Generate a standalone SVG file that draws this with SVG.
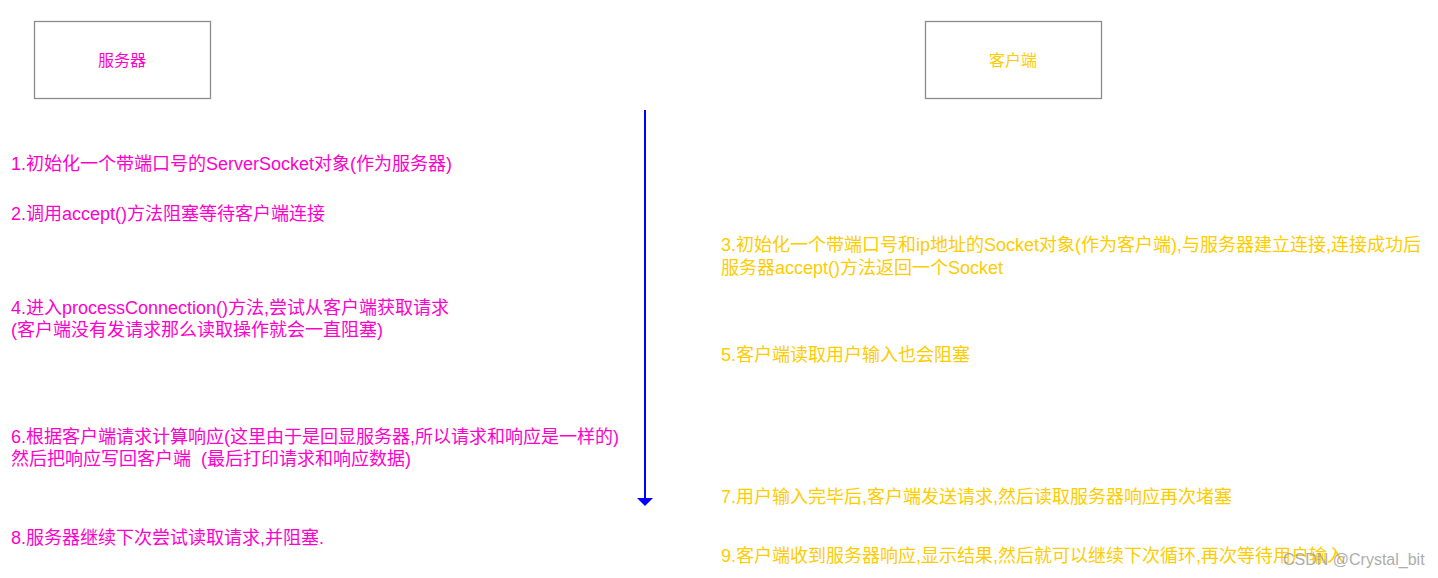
<svg xmlns="http://www.w3.org/2000/svg" width="1438" height="578" viewBox="0 0 1438 578">
<style>
text{font-family:"Liberation Sans","Noto Sans CJK SC",sans-serif}
.box{fill:#fff;stroke:#8c8c8c;stroke-width:1.3}
.t{font-size:18px}
.s{fill:#ff00cc}
.c{fill:#ffcc00}
.h{font-size:16px;text-anchor:middle;dominant-baseline:central}
.wm{font-size:16px;fill:#999;opacity:0.8}
</style>
<rect width="1438" height="578" fill="#fff"/>
<g id="server">
<rect class="box" x="34.5" y="21.5" width="176" height="77"/>
<text class="h s" x="122" y="60">服务器</text>
</g>
<g id="client">
<rect class="box" x="925.5" y="21.5" width="176" height="77"/>
<text class="h c" x="1013" y="60">客户端</text>
</g>
<g id="connectors">
<line x1="645" y1="110" x2="645" y2="499" stroke="#0000ff" stroke-width="2"/>
<path d="M637,498 L653,498 L645,506 Z" fill="#0000ff"/>
</g>
<g id="server-steps" class="t s">
<text x="11" y="170">1.初始化一个带端口号的ServerSocket对象(作为服务器)</text>
<text x="11" y="220">2.调用accept()方法阻塞等待客户端连接</text>
<text x="11" y="314">4.进入processConnection()方法,尝试从客户端获取请求</text>
<text x="11" y="336">(客户端没有发请求那么读取操作就会一直阻塞)</text>
<text x="11" y="443">6.根据客户端请求计算响应(这里由于是回显服务器,所以请求和响应是一样的)</text>
<text x="11" y="465" xml:space="preserve">然后把响应写回客户端  (最后打印请求和响应数据)</text>
<text x="11" y="544">8.服务器继续下次尝试读取请求,并阻塞.</text>
</g>
<g id="client-steps" class="t c">
<text x="721" y="251">3.初始化一个带端口号和ip地址的Socket对象(作为客户端),与服务器建立连接,连接成功后</text>
<text x="721" y="274">服务器accept()方法返回一个Socket</text>
<text x="721" y="361">5.客户端读取用户输入也会阻塞</text>
<text x="721" y="503">7.用户输入完毕后,客户端发送请求,然后读取服务器响应再次堵塞</text>
<text x="721" y="562">9.客户端收到服务器响应,显示结果,然后就可以继续下次循环,再次等待用户输入</text>
</g>
<text class="wm" x="1283" y="565">CSDN @Crystal_bit</text>
</svg>
